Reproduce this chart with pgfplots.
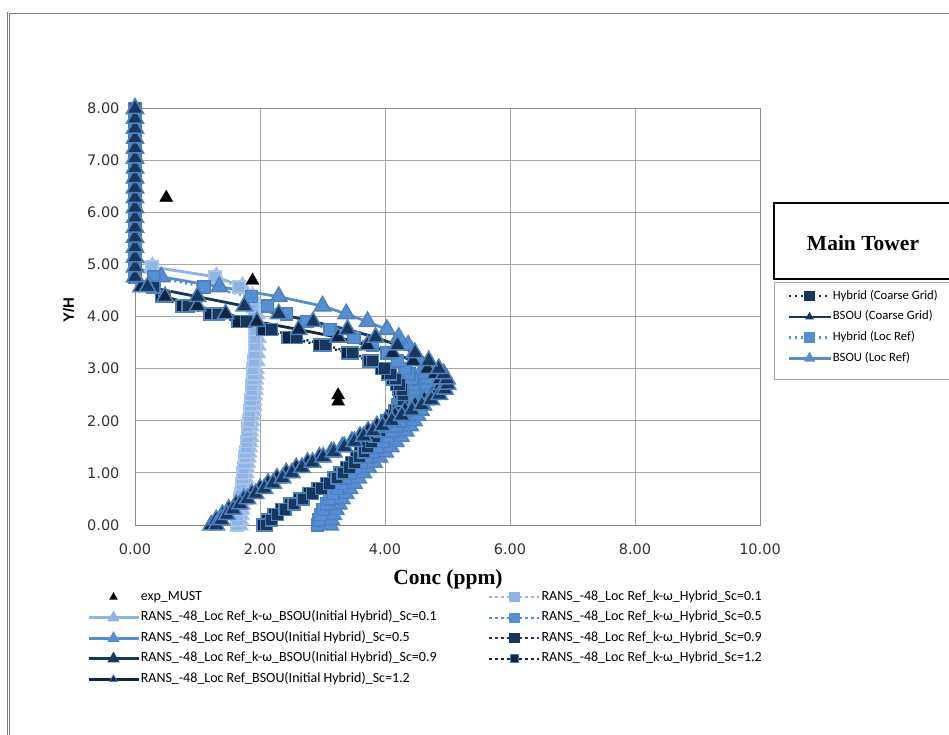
\documentclass[border=0pt]{standalone}
\usepackage{fontspec}
\usepackage{pgfplots}
\usepackage{pgfplotstable}
\pgfplotsset{compat=1.18}

\setmainfont{Carlito}
\newfontfamily\tickfont{DejaVu Sans}
\newfontfamily\sanslabel{Liberation Sans}
\newfontfamily\seriflabel{Liberation Serif}

\definecolor{scA}{HTML}{8DB4E2}
\definecolor{scAedge}{HTML}{A9C4EB}
\definecolor{scB}{HTML}{558ED5}
\definecolor{scC}{HTML}{17375E}
\definecolor{scD}{HTML}{10253F}
\definecolor{edgeblue}{HTML}{4F81BD}
\definecolor{gridgray}{HTML}{A6A6A6}
\definecolor{axisgray}{HTML}{8C8C8C}

\pgfplotsset{
  bsou/.style 2 args={solid, line width=2.8pt, color=#1, line join=round,
    mark=triangle*, mark size=9.5pt,
    mark options={solid, fill=#1, draw=#2, line width=1.5pt, line join=miter}},
  hybrid/.style 2 args={line width=2.4pt, color=#1, dash pattern=on 2pt off 3.5pt,
    mark=square*, mark size=6pt,
    mark options={solid, fill=#1, draw=#2, line width=1.5pt}},
  legendbase/.style={hide axis, scale only axis, width=949pt, height=735pt,
    at={(0pt,-735pt)}, anchor=south west,
    xmin=0, xmax=949, ymin=-735, ymax=0,
    legend cell align=left,
    legend style={draw=none, fill=none, inner sep=0pt, anchor=north west,
      font=\fontsize{14}{16}\selectfont,
      nodes={inner sep=0pt, text height=9pt, text depth=3pt},
      row sep=8.5pt,
      /tikz/every odd column/.append style={column sep=1pt}}},
}

% Concentration profiles: x = Conc (ppm) for each run at height y = Y/H
\pgfplotstableread{
y     B01   H01   B05   H05   B09   H09   B12   H12
0.00  1.67  1.63  3.12  2.92  1.30  2.10  1.22  2.05
0.10  1.68  1.64  3.14  2.94  1.38  2.18  1.30  2.12
0.20  1.69  1.65  3.17  2.97  1.47  2.28  1.40  2.22
0.30  1.70  1.66  3.21  3.01  1.57  2.40  1.50  2.34
0.40  1.71  1.67  3.26  3.06  1.68  2.54  1.62  2.48
0.50  1.72  1.68  3.31  3.11  1.80  2.69  1.74  2.63
0.60  1.73  1.69  3.37  3.17  1.93  2.84  1.87  2.78
0.70  1.74  1.70  3.43  3.23  2.07  2.98  2.00  2.93
0.80  1.75  1.71  3.50  3.30  2.21  3.11  2.13  3.06
0.90  1.76  1.72  3.57  3.37  2.36  3.23  2.27  3.18
1.00  1.77  1.73  3.65  3.45  2.51  3.33  2.42  3.28
1.10  1.78  1.74  3.73  3.53  2.67  3.43  2.58  3.38
1.20  1.79  1.75  3.82  3.62  2.84  3.51  2.76  3.46
1.30  1.80  1.76  3.91  3.71  3.01  3.59  2.95  3.54
1.40  1.81  1.77  4.00  3.80  3.18  3.66  3.14  3.61
1.50  1.82  1.78  4.09  3.89  3.35  3.72  3.32  3.67
1.60  1.83  1.79  4.17  3.97  3.51  3.78  3.47  3.73
1.70  1.84  1.80  4.25  4.05  3.66  3.84  3.60  3.79
1.80  1.84  1.80  4.33  4.12  3.81  3.91  3.73  3.85
1.90  1.85  1.81  4.40  4.19  3.96  3.99  3.87  3.93
2.00  1.86  1.82  4.46  4.25  4.11  4.07  4.01  4.02
2.10  1.87  1.83  4.52  4.31  4.27  4.15  4.16  4.10
2.20  1.88  1.84  4.57  4.36  4.43  4.21  4.32  4.16
2.30  1.89  1.85  4.61  4.40  4.59  4.26  4.48  4.21
2.40  1.89  1.85  4.64  4.43  4.74  4.29  4.63  4.24
2.50  1.90  1.86  4.66  4.45  4.87  4.29  4.76  4.24
2.60  1.91  1.87  4.67  4.46  4.96  4.27  4.86  4.22
2.70  1.91  1.87  4.67  4.45  5.00  4.23  4.90  4.18
2.80  1.92  1.88  4.66  4.42  4.99  4.17  4.88  4.12
2.90  1.93  1.89  4.64  4.38  4.94  4.09  4.80  4.04
3.00  1.93  1.89  4.61  4.32  4.86  3.99  4.68  3.94
3.15  1.94  1.90  4.55  4.20  4.70  3.80  4.45  3.74
3.30  1.95  1.91  4.47  4.03  4.48  3.48  4.12  3.40
3.45  1.96  1.92  4.37  3.80  4.20  3.05  3.72  2.95
3.60  1.96  1.92  4.22  3.50  3.85  2.58  3.25  2.45
3.75  1.96  1.92  4.03  3.12  3.40  2.18  2.62  2.05
3.90  1.96  1.92  3.72  2.75  2.85  1.78  1.95  1.65
4.05  1.95  1.91  3.38  2.42  2.30  1.33  1.45  1.20
4.20  1.93  1.89  3.00  2.12  1.75  0.85  1.00  0.75
4.38  1.88  1.84  2.30  1.86  1.00  0.47  0.48  0.42
4.57  1.72  1.66  1.35  1.10  0.20  0.30  0.10  0.28
4.76  1.30  1.28  0.42  0.30  0.00  0.00  0.00  0.00
4.95  0.28  0.27  0.00  0.00  0.00  0.00  0.00  0.00
5.14  0.00  0.00  0.00  0.00  0.00  0.00  0.00  0.00
5.33  0.00  0.00  0.00  0.00  0.00  0.00  0.00  0.00
5.52  0.00  0.00  0.00  0.00  0.00  0.00  0.00  0.00
5.71  0.00  0.00  0.00  0.00  0.00  0.00  0.00  0.00
5.90  0.00  0.00  0.00  0.00  0.00  0.00  0.00  0.00
6.09  0.00  0.00  0.00  0.00  0.00  0.00  0.00  0.00
6.28  0.00  0.00  0.00  0.00  0.00  0.00  0.00  0.00
6.47  0.00  0.00  0.00  0.00  0.00  0.00  0.00  0.00
6.66  0.00  0.00  0.00  0.00  0.00  0.00  0.00  0.00
6.85  0.00  0.00  0.00  0.00  0.00  0.00  0.00  0.00
7.04  0.00  0.00  0.00  0.00  0.00  0.00  0.00  0.00
7.23  0.00  0.00  0.00  0.00  0.00  0.00  0.00  0.00
7.42  0.00  0.00  0.00  0.00  0.00  0.00  0.00  0.00
7.61  0.00  0.00  0.00  0.00  0.00  0.00  0.00  0.00
7.80  0.00  0.00  0.00  0.00  0.00  0.00  0.00  0.00
7.99  0.00  0.00  0.00  0.00  0.00  0.00  0.00  0.00
}\profiles

% MUST field measurements
\pgfplotstableread{
x     y
0.50  6.28
1.88  4.69
3.25  2.49
3.25  2.37
}\mustdata

\begin{document}
\begin{tikzpicture}
\useasboundingbox (0pt,0pt) rectangle (949pt,-735pt);
\fill[white] (0pt,0pt) rectangle (949pt,-735pt);

% chart area frame
\draw[draw=black!50, line width=0.8pt, double=white, double distance=1pt]
  (8.5pt,-13pt) rectangle (990pt,-780pt);

\begin{axis}[
  at={(135pt,-525pt)}, anchor=south west,
  scale only axis, width=625pt, height=417pt,
  xmin=0, xmax=10, ymin=0, ymax=8,
  xtick={0,2,...,10}, ytick={0,1,...,8},
  grid=major,
  major grid style={draw=gridgray, line width=1pt},
  axis line style={draw=axisgray, line width=1pt},
  major tick length=0pt,
  tick label style={font=\tickfont\fontsize{14.5}{17}\selectfont, text=black!80},
  xticklabel style={yshift=-15.5pt},
  yticklabel style={xshift=-12pt},
  /pgf/number format/.cd, fixed, fixed zerofill, precision=2, assume math mode=true,
  /pgfplots/.cd,
  xlabel={Conc (ppm)},
  xlabel style={font=\seriflabel\bfseries\fontsize{21.5}{24}\selectfont,
    at={(axis description cs:0.5008,-0.1295)}, anchor=center},
  ylabel={Y/H},
  ylabel style={font=\sanslabel\bfseries\fontsize{15}{18}\selectfont,
    at={(axis description cs:-0.1064,0.516)}, anchor=center},
  clip=false,
]
\addplot[bsou={scA}{scAedge}]   table[x=B01, y=y] {\profiles};
\addplot[hybrid={scA}{scAedge}] table[x=H01, y=y] {\profiles};
\addplot[bsou={scB}{edgeblue}]   table[x=B05, y=y] {\profiles};
\addplot[hybrid={scB}{edgeblue}] table[x=H05, y=y] {\profiles};
\addplot[hybrid={scD}{edgeblue}] table[x=H12, y=y] {\profiles};
\addplot[hybrid={scC}{edgeblue}] table[x=H09, y=y] {\profiles};
\addplot[bsou={scD}{edgeblue}]   table[x=B12, y=y] {\profiles};
\addplot[bsou={scC}{edgeblue}]   table[x=B09, y=y] {\profiles};
\addplot[only marks, mark=triangle*, mark size=7.5pt, black] table[x=x, y=y] {\mustdata};
\end{axis}

% bottom legend, left column
\begin{axis}[legendbase,
  legend image code/.code={\draw[mark repeat=2, mark phase=2, #1]
    plot coordinates {(0pt,0pt) (25pt,0pt) (50pt,0pt)};},
  legend style={at={(axis cs:87,-591)}}]
\addlegendimage{black, draw opacity=0, mark=triangle*, mark size=5pt,
  mark options={fill=black, fill opacity=1}}
\addlegendentry{exp\_MUST}
\addlegendimage{solid, line width=2.6pt, scA, mark=triangle*, mark size=4.5pt, mark options={fill=scA, draw=scA}}
\addlegendentry{RANS\_-48\_Loc Ref\_k-ω\_BSOU(Initial Hybrid)\_Sc=0.1}
\addlegendimage{solid, line width=2.6pt, scB, mark=triangle*, mark size=4.5pt, mark options={fill=scB, draw=scB}}
\addlegendentry{RANS\_-48\_Loc Ref\_BSOU(Initial Hybrid)\_Sc=0.5}
\addlegendimage{solid, line width=2.6pt, scC, mark=triangle*, mark size=4.5pt, mark options={fill=scC, draw=scC}}
\addlegendentry{RANS\_-48\_Loc Ref\_k-ω\_BSOU(Initial Hybrid)\_Sc=0.9}
\addlegendimage{solid, line width=2.6pt, scD, mark=triangle*, mark size=4.5pt, mark options={fill=scD, draw=edgeblue, line width=0.8pt}}
\addlegendentry{RANS\_-48\_Loc Ref\_BSOU(Initial Hybrid)\_Sc=1.2}
\end{axis}

% bottom legend, right column
\begin{axis}[legendbase,
  legend image code/.code={\draw[mark repeat=2, mark phase=2, #1]
    plot coordinates {(0pt,0pt) (25pt,0pt) (50pt,0pt)};},
  legend style={at={(axis cs:488,-591)}}]
\addlegendimage{line width=2.4pt, scA, dash pattern=on 2.4pt off 3.6pt, mark=square*, mark size=4pt, mark options={solid, fill=scA, draw=scA}}
\addlegendentry{RANS\_-48\_Loc Ref\_k-ω\_Hybrid\_Sc=0.1}
\addlegendimage{line width=2.4pt, scB, dash pattern=on 2.4pt off 3.6pt, mark=square*, mark size=4pt, mark options={solid, fill=scB, draw=scB}}
\addlegendentry{RANS\_-48\_Loc Ref\_k-ω\_Hybrid\_Sc=0.5}
\addlegendimage{line width=2.4pt, scC, dash pattern=on 2.4pt off 3.6pt, mark=square*, mark size=4pt, mark options={solid, fill=scC, draw=scC}}
\addlegendentry{RANS\_-48\_Loc Ref\_k-ω\_Hybrid\_Sc=0.9}
\addlegendimage{line width=2.4pt, scD, dash pattern=on 2.4pt off 3.6pt, mark=square*, mark size=4pt, mark options={solid, fill=scD, draw=edgeblue, line width=0.8pt}}
\addlegendentry{RANS\_-48\_Loc Ref\_k-ω\_Hybrid\_Sc=1.2}
\end{axis}

% tower legend
\draw[line width=1.5pt] (774pt,-203pt) rectangle (990pt,-279pt);
\node[font=\seriflabel\bfseries\fontsize{21.5}{24}\selectfont] at (863pt,-243pt) {Main Tower};
\draw[line width=0.9pt, draw=gray!70] (774pt,-282pt) rectangle (990pt,-379pt);
\begin{axis}[legendbase,
  legend image code/.code={\draw[mark repeat=2, mark phase=2, #1]
    plot coordinates {(0pt,0pt) (21pt,0pt) (42pt,0pt)};},
  legend style={at={(axis cs:787,-290)}, row sep=8.7pt,
    font=\fontsize{12.7}{15}\selectfont}]
\addlegendimage{line width=2.4pt, scC, dash pattern=on 2.4pt off 3.6pt, mark=square*, mark size=4pt, mark options={solid, fill=scC, draw=scC}}
\addlegendentry{Hybrid (Coarse Grid)}
\addlegendimage{solid, line width=2.6pt, scC, mark=triangle*, mark size=2.5pt, mark options={fill=scC, draw=scC}}
\addlegendentry{BSOU (Coarse Grid)}
\addlegendimage{line width=2.4pt, scB, dash pattern=on 2.4pt off 3.6pt, mark=square*, mark size=4pt, mark options={solid, fill=scB, draw=scB}}
\addlegendentry{Hybrid (Loc Ref)}
\addlegendimage{solid, line width=2.6pt, scB, mark=triangle*, mark size=4pt, mark options={fill=scB, draw=scB}}
\addlegendentry{BSOU (Loc Ref)}
\end{axis}
\end{tikzpicture}
\end{document}
